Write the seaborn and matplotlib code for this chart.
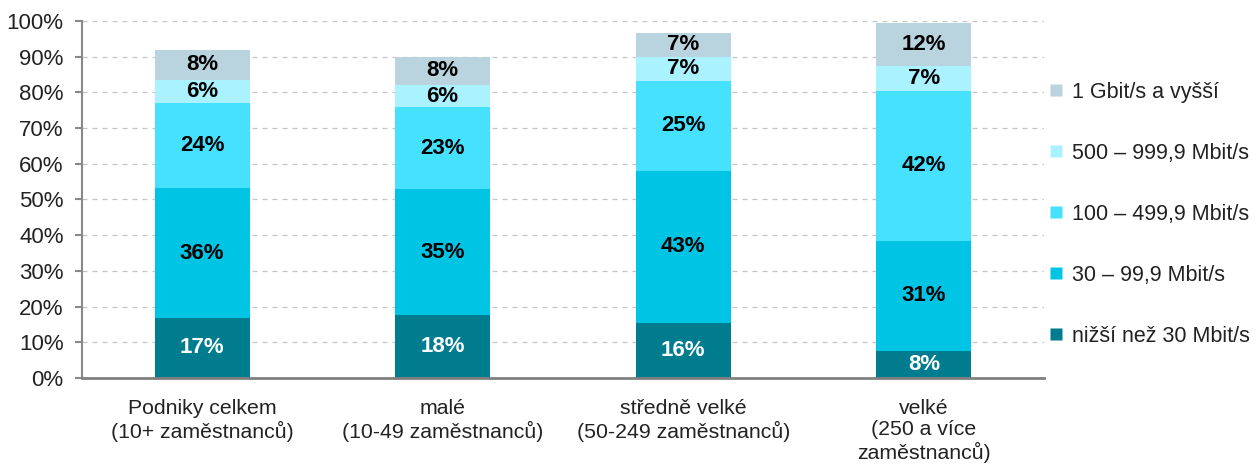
import numpy as np
import pandas as pd
import matplotlib
matplotlib.use("Agg")
import matplotlib.pyplot as plt
import seaborn as sns
from matplotlib.lines import Line2D

# categories (x axis)
categories = [
    "Podniky celkem\n(10+ zaměstnanců)",
    "malé\n(10-49 zaměstnanců)",
    "středně velké\n(50-249 zaměstnanců)",
    "velké\n(250 a více\nzaměstnanců)",
]

# speed bands, bottom to top
series_names = [
    "nižší než 30 Mbit/s",
    "30 – 99,9 Mbit/s",
    "100 – 499,9 Mbit/s",
    "500 – 999,9 Mbit/s",
    "1 Gbit/s a vyšší",
]
series_colors = ["#007C8F", "#00C4E4", "#46E1FF", "#AAF2FF", "#B9D4DF"]

# shares in % (label = rounded value)
below_30 = [16.9, 17.6, 15.5, 7.6]
mbit_30_99 = [36.2, 35.3, 42.6, 30.9]
mbit_100_499 = [24.0, 22.9, 25.1, 41.9]
mbit_500_999 = [6.4, 6.3, 6.8, 6.9]
gbit_1 = [8.4, 7.9, 6.7, 12.1]

labels_below_30 = ["17%", "18%", "16%", "8%"]
labels_30_99 = ["36%", "35%", "43%", "31%"]
labels_100_499 = ["24%", "23%", "25%", "42%"]
labels_500_999 = ["6%", "6%", "7%", "7%"]
labels_gbit = ["8%", "8%", "7%", "12%"]

series_values = [below_30, mbit_30_99, mbit_100_499, mbit_500_999, gbit_1]
series_labels = [labels_below_30, labels_30_99, labels_100_499, labels_500_999, labels_gbit]

sns.set_style("white")
plt.rcParams["font.family"] = ["Liberation Sans", "DejaVu Sans"]

fig = plt.figure(figsize=(12.58, 4.65), dpi=100)
ax = fig.add_axes([0.065, 0.187, 0.765, 0.768])

vals = np.array(series_values)
cum = np.cumsum(vals, axis=0)

# draw cumulative totals, tallest first, so the stack shows through
for i in range(len(series_names) - 1, -1, -1):
    df = pd.DataFrame({"cat": categories, "val": cum[i]})
    sns.barplot(data=df, x="cat", y="val", color=series_colors[i], width=0.395,
                saturation=1, ax=ax, zorder=2, edgecolor="none")

# segment labels
for i in range(len(series_names)):
    bottoms = cum[i] - vals[i]
    for j in range(len(categories)):
        ax.text(j, bottoms[j] + vals[i][j] / 2, series_labels[i][j],
                ha="center", va="center", fontsize=16, fontweight="bold",
                color="white" if i == 0 else "black", zorder=3)

ax.set_xlim(-0.5, len(categories) - 0.5)
ax.set_ylim(0, 100)
ax.set_yticks(np.arange(0, 101, 10))
ax.set_yticklabels([f"{v}%" for v in range(0, 101, 10)], fontsize=16, color="#222222")
ax.yaxis.grid(True, linestyle=(0, (4, 4)), color="#C4C4C4", linewidth=0.9, zorder=0)
ax.set_axisbelow(True)

ax.set_xticks(range(len(categories)))
ax.set_xticklabels(categories, fontsize=15.3, color="#222222", linespacing=1.15)
ax.set_xticks(np.arange(-0.5, len(categories), 1), minor=True)
ax.tick_params(axis="x", which="major", length=0, pad=15)
ax.tick_params(axis="x", which="minor", length=5, width=1.5, color="#898989")
ax.tick_params(axis="y", length=5, width=1.5, color="#898989", pad=8, left=True)
ax.set_xlabel("")
ax.set_ylabel("")

for side in ["top", "right"]:
    ax.spines[side].set_visible(False)
ax.spines["left"].set_color("#898989")
ax.spines["left"].set_linewidth(1.5)
ax.spines["bottom"].set_color("#808080")
ax.spines["bottom"].set_linewidth(2)

handles = [Line2D([0], [0], marker="s", linestyle="none", markersize=8,
                  markerfacecolor=c, markeredgecolor="none")
           for c in series_colors[::-1]]
fig.legend(handles, series_names[::-1], loc="upper left",
           bbox_to_anchor=(1034 / 1258, 1 - 71 / 465), frameon=False,
           fontsize=15.5, labelspacing=1.86, handletextpad=0.25, handlelength=1.0,
           borderpad=0, labelcolor="#222222")

fig.savefig("out.png", dpi=100)
